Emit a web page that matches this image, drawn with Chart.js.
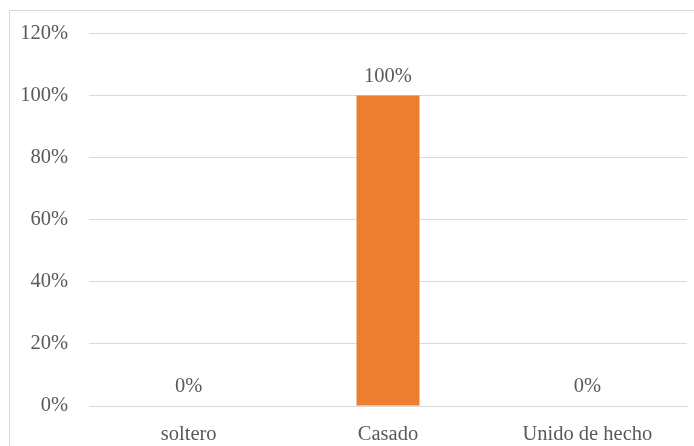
<!DOCTYPE html>
<html>
<head>
<meta charset="utf-8">
<script src="https://cdn.jsdelivr.net/npm/chart.js@4/dist/chart.umd.min.js"></script>
<style>
  html, body { margin: 0; padding: 0; background: #fff; }
  #wrap { width: 694px; height: 446px; position: relative; }
</style>
</head>
<body>
<div id="wrap"><canvas id="c" width="694" height="446"></canvas></div>
<script>
// Estado civil: porcentaje por categoría
const categories = ['soltero', 'Casado', 'Unido de hecho'];
const values = [0, 100, 0];
const yTicks = [0, 20, 40, 60, 80, 100, 120];

const textColor = '#595959';
const fontFamily = "'Liberation Serif', 'Times New Roman', serif";

// Marco gris claro alrededor del gráfico
const framePlugin = {
  id: 'frame',
  beforeDraw(chart) {
    const ctx = chart.ctx;
    ctx.save();
    ctx.strokeStyle = '#d9d9d9';
    ctx.lineWidth = 1;
    ctx.beginPath();
    ctx.moveTo(9.5, chart.height);
    ctx.lineTo(9.5, 10.5);
    ctx.lineTo(chart.width, 10.5);
    ctx.stroke();
    ctx.restore();
  }
};

// Etiquetas de valor sobre cada barra
const valueLabels = {
  id: 'valueLabels',
  afterDatasetsDraw(chart) {
    const ctx = chart.ctx;
    const meta = chart.getDatasetMeta(0);
    ctx.save();
    ctx.fillStyle = textColor;
    ctx.font = "20.5px " + fontFamily;
    ctx.textAlign = 'center';
    ctx.textBaseline = 'middle';
    meta.data.forEach((bar, i) => {
      ctx.fillText(values[i] + '%', bar.x, bar.y - 19);
    });
    ctx.restore();
  }
};

new Chart(document.getElementById('c'), {
  type: 'bar',
  data: {
    labels: categories,
    datasets: [{
      data: values,
      backgroundColor: '#ED7D31',
      categoryPercentage: 1,
      barPercentage: 0.316
    }]
  },
  options: {
    responsive: false,
    animation: false,
    layout: { padding: { top: 29, right: 7, left: 0, bottom: 0 } },
    plugins: { legend: { display: false }, tooltip: { enabled: false } },
    scales: {
      x: {
        grid: { display: false, drawTicks: false },
        border: { display: true, color: '#d9d9d9' },
        ticks: { color: textColor, font: { family: fontFamily, size: 20.5 }, padding: 16, maxRotation: 0 },
        afterFit(s) { s.height = 40; }
      },
      y: {
        min: 0,
        max: 120,
        afterBuildTicks(s) { s.ticks = yTicks.map(v => ({ value: v })); },
        grid: { color: '#d9d9d9', drawTicks: false },
        border: { display: false },
        ticks: {
          color: textColor,
          font: { family: fontFamily, size: 20.5 },
          padding: 21,
          callback: v => v + '%'
        },
        afterFit(s) { s.width = 89; }
      }
    }
  },
  plugins: [framePlugin, valueLabels]
});
</script>
</body>
</html>
